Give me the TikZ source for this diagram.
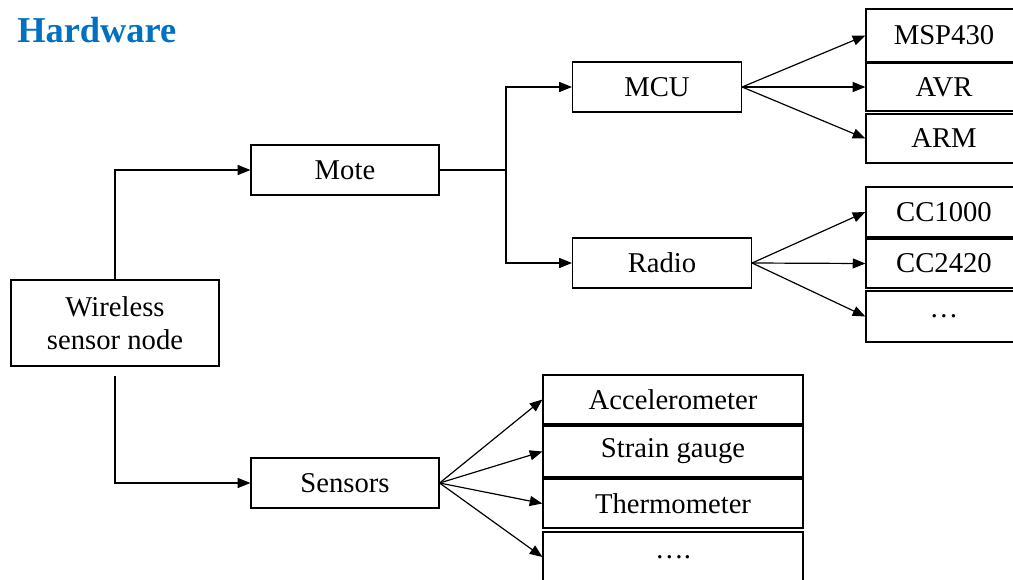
\documentclass[tikz,border=0pt]{standalone}
\usepackage{fontspec}
\setmainfont{Liberation Serif}
\usetikzlibrary{arrows.meta}
\definecolor{headblue}{RGB}{0,112,192}
\begin{document}
\begin{tikzpicture}[x=0.75pt,y=-0.75pt,>={Triangle[length=9.5pt,width=7.5pt]}]
\tikzset{
    box/.style={draw,line width=0.9pt,inner sep=0pt,align=center,font=\fontsize{21.5}{25}\selectfont},
    part/.style={box,minimum width=188*0.75pt,minimum height=50*0.75pt},
    item/.style={box,minimum width=156*0.75pt,minimum height=50*0.75pt},
    sens/.style={box,minimum width=260*0.75pt,minimum height=50*0.75pt},
    flow/.style={->,line width=0.9pt}
}
\useasboundingbox (0,0) rectangle (1013,579);
\clip (0,0) rectangle (1013,579);
\node[font=\fontsize{27.3}{32}\selectfont\bfseries,text=headblue,anchor=base west,inner sep=0pt] (title) at (17,42) {Hardware};

\node[box,minimum width=208*0.75pt,minimum height=86*0.75pt] (wsn) at (115,323) {Wireless\\sensor node};
\node[part] (mote) at (345,170) {Mote};
\node[part] (sensors) at (345,483) {Sensors};
\node[box,minimum width=169*0.75pt,minimum height=50*0.75pt] (mcu) at (657,87) {MCU};
\node[box,minimum width=179*0.75pt,minimum height=50*0.75pt] (radio) at (662,263) {Radio};

\node[item,minimum height=53*0.75pt] (msp) at (944,35.5) {MSP430};
\node[item,minimum height=48*0.75pt] (avr) at (944,87) {AVR};
\node[item,minimum height=49*0.75pt] (arm) at (944,138.5) {ARM};
\node[item] (cca) at (944,212) {CC1000};
\node[item,minimum height=49*0.75pt] (ccb) at (944,263.5) {CC2420};
\node[item,minimum height=51*0.75pt] (rdots) at (944,316.5) {\dots};

\node[sens,minimum height=49*0.75pt] (accel) at (673,399.5) {Accelerometer};
\node[sens,minimum height=51*0.75pt] (strain) at (673,451.5) {Strain gauge};
\node[sens,minimum height=49*0.75pt] (thermo) at (673,503.5) {Thermometer};
\node[sens] (sdots) at (673,557) {\dots.};

\coordinate (split) at (506,170);
\draw[flow] (wsn.north) |- (mote.west);
\draw[flow,shorten <=9*0.75pt] (wsn.south) |- (sensors.west);
\draw[line width=0.9pt] (mote.east) -- (split);
\draw[flow] (split) |- (mcu.west);
\draw[flow] (split) |- (radio.west);

\foreach \t in {msp,avr,arm}
    \draw[flow] (mcu.east) -- (\t.west);
\foreach \t in {cca,ccb,rdots}
    \draw[flow] (radio.east) -- (\t.west);
\foreach \t in {accel,strain,thermo,sdots}
    \draw[flow] (sensors.east) -- (\t.west);
\end{tikzpicture}
\end{document}
